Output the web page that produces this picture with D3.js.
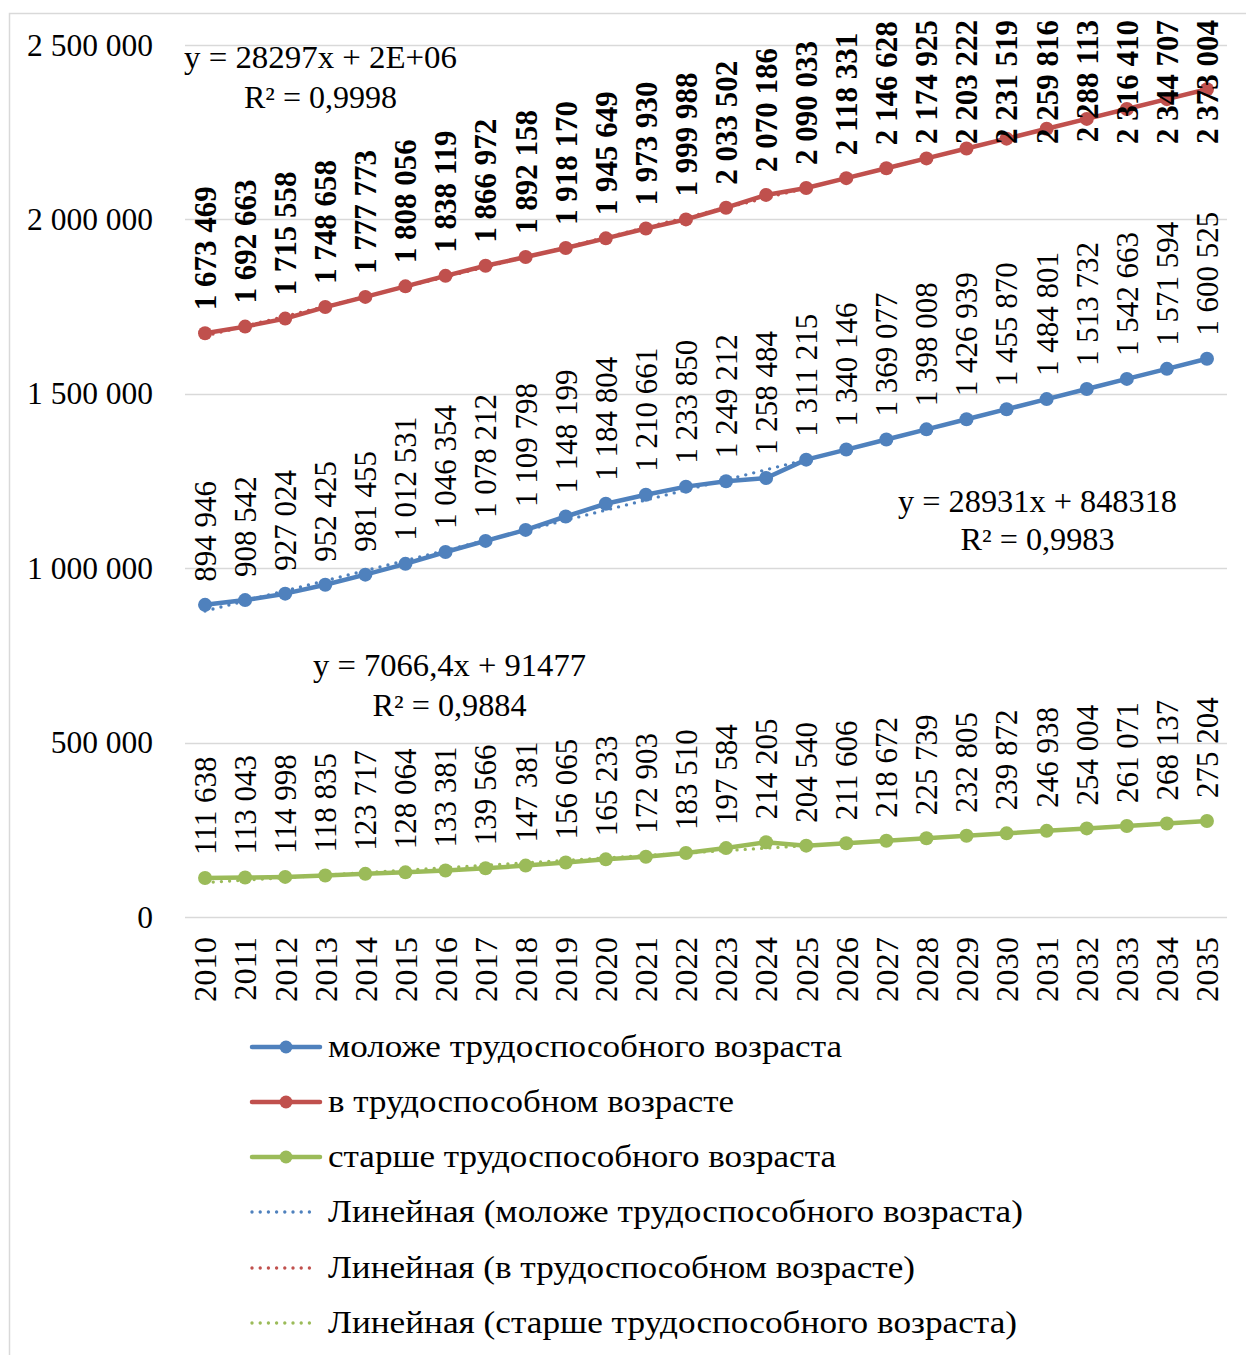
<!DOCTYPE html>
<html><head><meta charset="utf-8">
<script src="https://cdn.jsdelivr.net/npm/d3@7"></script>
<style>body{margin:0;background:#fff}svg{display:block}text{font-family:"Liberation Serif",serif;fill:#000}</style>
</head><body><svg id="c" width="1246" height="1355"></svg>
<script>
const years = [2010,2011,2012,2013,2014,2015,2016,2017,2018,2019,2020,2021,2022,2023,2024,2025,2026,2027,2028,2029,2030,2031,2032,2033,2034,2035];
const younger = [894946,908542,927024,952425,981455,1012531,1046354,1078212,1109798,1148199,1184804,1210661,1233850,1249212,1258484,1311215,1340146,1369077,1398008,1426939,1455870,1484801,1513732,1542663,1571594,1600525];
const working = [1673469,1692663,1715558,1748658,1777773,1808056,1838119,1866972,1892158,1918170,1945649,1973930,1999988,2033502,2070186,2090033,2118331,2146628,2174925,2203222,2231519,2259816,2288113,2316410,2344707,2373004];
const older = [111638,113043,114998,118835,123717,128064,133381,139566,147381,156065,165233,172903,183510,197584,214205,204540,211606,218672,225739,232805,239872,246938,254004,261071,268137,275204];
const seriesNames = ["моложе трудоспособного возраста","в трудоспособном возрасте","старше трудоспособного возраста"];
const trendNames = ["Линейная (моложе трудоспособного возраста)","Линейная (в трудоспособном возрасте)","Линейная (старше трудоспособного возраста)"];
const equations = [["y = 28931x + 848318","R² = 0,9983"],["y = 28297x + 2E+06","R² = 0,9998"],["y = 7066,4x + 91477","R² = 0,9884"]];
const yTicks = [0,500000,1000000,1500000,2000000,2500000];
const colors = ["#4F81BD","#C0504D","#9BBB59"];

const svg = d3.select("#c");
svg.append("rect").attr("x",9.5).attr("y",13.5).attr("width",1260).attr("height",1360).attr("fill","none").attr("stroke","#d9d9d9").attr("stroke-width",1.5);

const x = d3.scaleBand().domain(years).range([185,1227]);
const cx = d => x(d)+x.bandwidth()/2;
const y = d3.scaleLinear().domain([0,2500000]).range([917,45]);
const fmt = v => d3.format(",")(v).replace(/,/g," ");

// grid
svg.append("g").selectAll("line").data(yTicks).join("line")
  .attr("x1",185).attr("x2",1227).attr("y1",d=>Math.round(y(d))+0.5).attr("y2",d=>Math.round(y(d))+0.5)
  .attr("stroke","#d9d9d9").attr("stroke-width",1.5);
// y axis labels
const yAxis = d3.axisLeft(y).tickValues(yTicks).tickFormat(fmt).tickSize(0).tickPadding(0);
const ya = svg.append("g").attr("transform","translate(153,0)").call(yAxis);
ya.select(".domain").remove();
ya.selectAll("text").style("font-size","31.5px").attr("font-family","Liberation Serif");
// x axis labels
const xAxis = d3.axisBottom(x).tickSize(0).tickPadding(0);
const xa = svg.append("g").attr("transform","translate(0,917)").call(xAxis);
xa.select(".domain").remove();
xa.selectAll("text").style("font-size","32.5px").attr("font-family","Liberation Serif")
  .attr("text-anchor","end").attr("transform","translate(0,20) rotate(-90)").attr("x",0).attr("y",0).attr("dy","0.35em");

const data = [younger, working, older];
const dots = {"stroke-width":3.4,"stroke-dasharray":"0 8.2","stroke-linecap":"round"};
// trendlines
data.forEach((vals,i)=>{
  const n = vals.length; const xs = vals.map((_,k)=>k+1);
  const mx = d3.mean(xs), my = d3.mean(vals);
  const b = d3.sum(xs.map((xv,k)=>(xv-mx)*(vals[k]-my)))/d3.sum(xs.map(xv=>(xv-mx)**2));
  const a = my - b*mx;
  const l = svg.append("line").attr("x1",cx(years[0])).attr("x2",cx(years[n-1]))
    .attr("y1",y(a+b)).attr("y2",y(a+b*n)).attr("stroke",colors[i]);
  Object.entries(dots).forEach(([k,v])=>l.attr(k,v));
});
// lines + markers
data.forEach((vals,i)=>{
  const line = d3.line().x((d,k)=>cx(years[k])).y(d=>y(d));
  svg.append("path").attr("d",line(vals)).attr("fill","none").attr("stroke",colors[i]).attr("stroke-width",4.5).attr("stroke-linejoin","round");
  svg.append("g").selectAll("circle").data(vals).join("circle")
    .attr("cx",(d,k)=>cx(years[k])).attr("cy",d=>y(d)).attr("r",7).attr("fill",colors[i]);
});
// data labels
data.forEach((vals,i)=>{
  const g = svg.append("g");
  vals.forEach((v,k)=>{
    const t = g.append("text").text(fmt(v)).style("font-size","31px")
      .attr("font-weight", i===1?"bold":"normal").attr("dy","0.35em");
    const L = t.node().getComputedTextLength();
    let start = y(v)-23;
    if (start - L < 20) start = 20 + L;
    t.attr("transform",`translate(${cx(years[k])},${start}) rotate(-90)`);
  });
});
// equations
const eqPos = [[1037.5,512,550],[320.5,68,108],[449.5,676,716]];
const eqW = [[279,154],[273,153],[273,154]];
equations.forEach((e,i)=>{
  [0,1].forEach(j=>{
    svg.append("text").attr("x",eqPos[i][0]-eqW[i][j]/2).attr("y",eqPos[i][1+j])
      .attr("textLength",eqW[i][j]).attr("lengthAdjust","spacingAndGlyphs")
      .style("font-size","30.5px").text(e[j]);
  });
});
// legend
const lg = svg.append("g");
const rows = [1047,1102,1157,1212,1268,1323];
const legW = [514,406,508,695,587,689];
seriesNames.forEach((n,i)=>{
  lg.append("line").attr("x1",252).attr("x2",320).attr("y1",rows[i]).attr("y2",rows[i]).attr("stroke",colors[i]).attr("stroke-width",4.5).attr("stroke-linecap","round");
  lg.append("circle").attr("cx",286).attr("cy",rows[i]).attr("r",6.5).attr("fill",colors[i]);
  lg.append("text").attr("x",328).attr("y",rows[i]).attr("dy","0.32em").style("font-size","32.5px")
    .attr("textLength",legW[i]).attr("lengthAdjust","spacingAndGlyphs").text(n);
});
trendNames.forEach((n,i)=>{
  const r = rows[i+3];
  const l = lg.append("line").attr("x1",252).attr("x2",316).attr("y1",r).attr("y2",r).attr("stroke",colors[i]);
  Object.entries(dots).forEach(([k,v])=>l.attr(k,v));
  lg.append("text").attr("x",328).attr("y",r).attr("dy","0.32em").style("font-size","32.5px")
    .attr("textLength",legW[i+3]).attr("lengthAdjust","spacingAndGlyphs").text(n);
});
</script></body></html>
